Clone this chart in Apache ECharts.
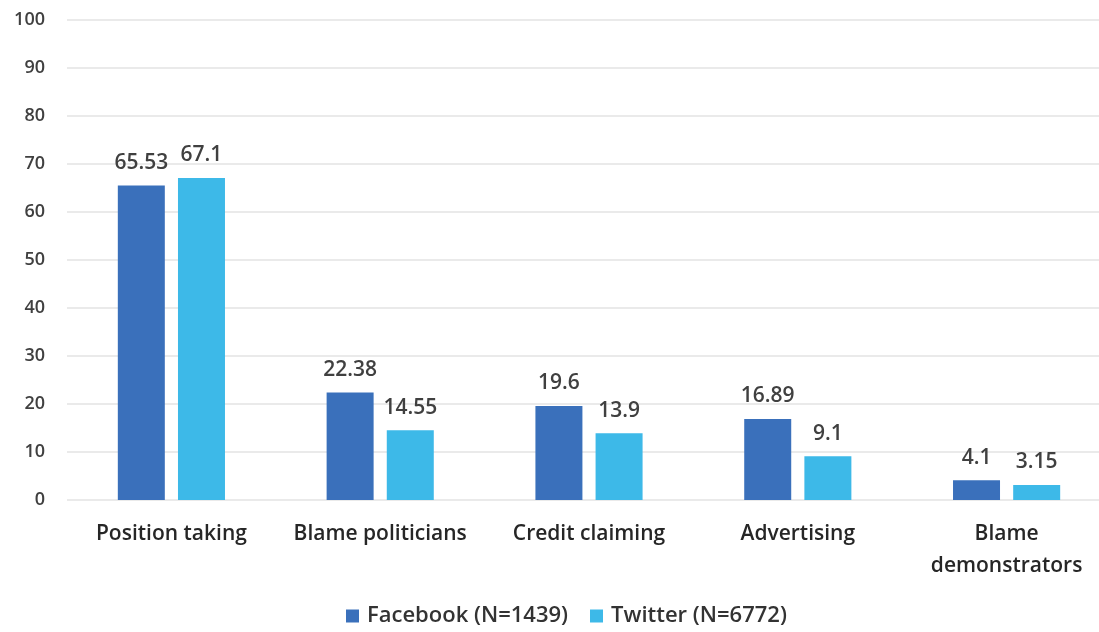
<!DOCTYPE html>
<html>
<head>
    <meta charset="utf-8">
    <script src="https://cdn.jsdelivr.net/npm/echarts@6/dist/echarts.min.js"></script>
    <style>
        html, body { margin: 0; padding: 0; background: #fff; }
    </style>
</head>
<body>
<div id="myChart" style="width: 1099px; height: 632px;"></div>

<script type="text/javascript">
    var categories = ['Position taking', 'Blame politicians', 'Credit claiming', 'Advertising', 'Blame\ndemonstrators'];
    var facebook = [65.53, 22.38, 19.6, 16.89, 4.1];
    var twitter = [67.1, 14.55, 13.9, 9.1, 3.15];
    var seriesNames = ['Facebook (N=1439)', 'Twitter (N=6772)'];
    var yTicks = {min: 0, max: 100, interval: 10};

    var color = ['#3a70bb', '#3db9e8'];
    var font = '"Open Sans", Lato, sans-serif';

    var chart = echarts.init(document.getElementById('myChart'));

    var labelStyle = {
        show: true,
        position: 'top',
        distance: 12,
        color: '#404040',
        fontFamily: font,
        fontSize: 21,
        fontWeight: 600
    };

    var option = {
        animation: false,
        legend: {
            bottom: 0,
            left: 341,
            icon: 'rect',
            itemWidth: 13,
            itemHeight: 13,
            itemGap: 22,
            textStyle: {
                color: '#333',
                fontFamily: font,
                fontSize: 22,
                fontWeight: 600,
                padding: [0, 0, 0, 3]
            },
            data: seriesNames
        },
        grid: {
            left: 67,
            width: 1044,
            top: 20,
            bottom: 132,
            outerBoundsMode: 'none'
        },
        xAxis: {
            type: 'category',
            data: categories,
            axisLine: {show: false},
            axisTick: {show: false},
            axisLabel: {
                interval: 0,
                margin: 18,
                color: '#262626',
                fontFamily: font,
                fontSize: 21,
                fontWeight: 600,
                lineHeight: 32
            }
        },
        yAxis: {
            type: 'value',
            min: yTicks.min,
            max: yTicks.max,
            interval: yTicks.interval,
            axisLine: {show: false},
            axisTick: {show: false},
            splitLine: {
                lineStyle: {color: '#e3e3e3', width: 1.5}
            },
            axisLabel: {
                margin: 22,
                color: '#404040',
                fontFamily: font,
                fontSize: 18,
                fontWeight: 600
            }
        },
        series: [{
            name: seriesNames[0],
            type: 'bar',
            data: facebook,
            barWidth: 47,
            barGap: '28%',
            itemStyle: {color: color[0]},
            label: labelStyle
        }, {
            name: seriesNames[1],
            type: 'bar',
            data: twitter,
            barWidth: 47,
            barGap: '28%',
            itemStyle: {color: color[1]},
            label: labelStyle
        }]
    };

    chart.setOption(option);
</script>
</body>
</html>
